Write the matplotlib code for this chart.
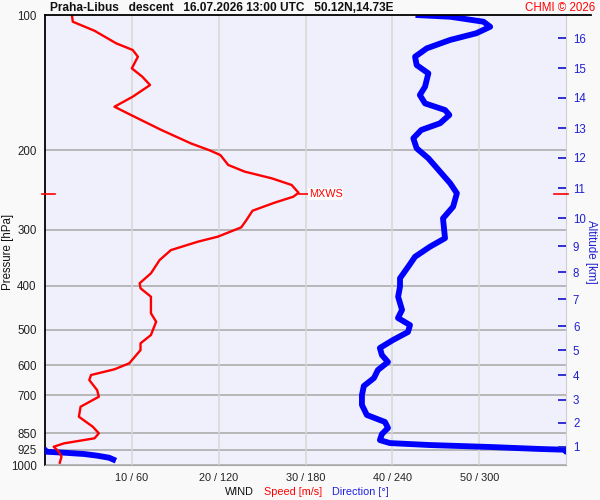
import matplotlib
matplotlib.use('Agg')
import numpy as np
import matplotlib.pyplot as plt
from matplotlib.ticker import NullLocator
from matplotlib.lines import Line2D

plt.rcParams['font.family'] = ['Liberation Sans', 'DejaVu Sans']

# ---------------- data ----------------
speed_p = [100, 103.5, 108.4, 115.6, 119.6, 123.8, 131.4, 137.1, 143.1, 151.9, 159.9, 166.8,
           180.1, 192.9, 200, 204.8, 215.4, 222.9, 230.6, 238.6, 248.3, 253.4, 261.4, 272.2,
           285.5, 296.4, 310.9, 319.0, 333.0, 350.4, 375.0, 394.6, 404.8, 422.7, 460.1, 480.4,
           514.2, 536.6, 555.5, 594.3, 612.8, 631.0, 647.4, 681.5, 705.2, 742.1, 781.1, 822.1,
           850.4, 872.3, 895.1, 910.7, 934.1, 958.5, 988.3]
speed_ms = [3.1, 3.2, 5.7, 8.2, 10.1, 10.7, 10.0, 11.2, 12.1, 10.1, 8.0, 9.9,
            13.4, 16.8, 19.0, 20.2, 21.1, 23.0, 26.1, 28.4, 29.2, 28.6, 26.4, 23.9,
            23.2, 22.6, 19.9, 17.6, 14.5, 13.2, 12.2, 10.9, 11.0, 12.2, 12.2, 12.8,
            12.2, 11.0, 11.0, 9.7, 8.0, 5.3, 5.1, 6.0, 6.2, 4.1, 3.9, 5.5,
            6.2, 5.7, 2.2, 1.0, 1.6, 1.9, 1.7]

dir_p = [100, 100.9, 103.5, 106.2, 109.8, 113.6, 118.6, 123.8, 129.2, 134.8, 144.3, 150.6,
         157.2, 162.6, 166.8, 174.0, 180.1, 187.9, 197.8, 208.2, 236.6, 249.0, 266.7, 283.1,
         300.3, 313.3, 327.3, 344.5, 362.4, 384.6, 401.6, 422.7, 452.2, 471.3, 488.7, 506.4,
         527.6, 549.5, 569.7, 590.4, 615.2, 640.8, 667.6, 699.1, 735.5, 774.3, 802.4, 827.5,
         853.6, 880.3, 893.9, 902.9, 912.0, 921.4, 925.0, 934.1, 939.0, 945.3, 953.5, 963.4, 978.2]
# direction in degrees, unwrapped past 360 near the ground
dir_deg = [256, 280, 303, 307.6, 298, 280, 263.8, 255.7, 256.8, 264.9, 262.6, 259,
           262.6, 276.4, 279.4, 273, 260, 254.5, 256.8, 264.9, 280, 284.6, 282, 275,
           275.8, 276.4, 266, 255.7, 251, 245.3, 245.3, 244, 246.7, 243.9, 252.2, 250.8,
           240.4, 231.4, 232.8, 237, 230, 227.3, 220.3, 219, 219, 222.4, 234.9, 237,
           232.8, 231.4, 238.3, 266, 307.6, 342.3, 360, 360, 373.2, 387, 396.2, 404.3, 409]

p_ticks = [100, 200, 300, 400, 500, 600, 700, 850, 925, 1000]
p_grid = [200, 300, 400, 500, 600, 700, 850, 925, 1000]
x_ticks = [10, 20, 30, 40, 50]
x_labels = ['10 / 60', '20 / 120', '30 / 180', '40 / 240', '50 / 300']
alt_km = [1, 2, 3, 4, 5, 6, 7, 8, 9, 10, 11, 12, 13, 14, 15, 16]
alt_p = [912, 806.5, 717, 631, 555.4, 491.2, 427.8, 372.5, 326.2, 282.6, 242.4, 207.8,
         178.3, 152.9, 131.2, 112.5]
mxws_p = 250
mxws_speed = 29.2

# ---------------- figure ----------------
W, H = 600, 500
fig = plt.figure(figsize=(6, 5), dpi=100, facecolor='#f9f9f9')
ax = fig.add_axes([45 / W, 35 / H, 521 / W, 450 / H])
ax.set_facecolor('#f0f0fd')
ax.set_yscale('log')
ax.set_ylim(1000, 100)
ax.set_xlim(0, 60)
ax.yaxis.set_minor_locator(NullLocator())
ax.set_yticks(p_ticks)
ax.set_yticklabels([str(p) for p in p_ticks])
ax.tick_params(axis='y', length=0, pad=6, labelsize=8.3, labelcolor='#222222')
ax.set_xticks(x_ticks)
ax.set_xticklabels(x_labels)
ax.tick_params(axis='x', length=0, pad=6, labelsize=7.8, labelcolor='#222222')

for p in p_grid:
    ax.axhline(p, color='#a8a8a8', lw=1.1, zorder=1)
for x in x_ticks:
    ax.axvline(x, color='#d8d8d8', lw=1.1, zorder=1)

ax.spines['left'].set_color('black')
ax.spines['left'].set_linewidth(1.3)
ax.spines['top'].set_visible(False)
ax.spines['right'].set_color('#cfcfcf')
ax.spines['bottom'].set_color('#a8a8a8')

# speed
ax.plot(speed_ms, speed_p, color='red', lw=1.7, zorder=4)
# direction (0-360 mapped on 0-60)
d = np.array(dir_deg) / 6.0
ax.plot(d, dir_p, color='blue', lw=4.2, zorder=3, solid_capstyle='butt')
ax.plot(d - 60, dir_p, color='blue', lw=4.2, zorder=3, solid_capstyle='butt')

# MXWS markers
ax.plot([-0.35, 1.15], [mxws_p, mxws_p], color='red', lw=1.2, clip_on=False, zorder=5)
ax.plot([58.6, 60.2], [mxws_p, mxws_p], color='red', lw=1.2, clip_on=False, zorder=5)
ax.plot([mxws_speed, 30.3], [mxws_p, mxws_p], color='red', lw=1.2, zorder=5)
ax.text(30.4, mxws_p, 'MXWS', color='red', fontsize=7.8, va='center', ha='left',
        bbox=dict(facecolor='white', edgecolor='none', pad=0.5), zorder=6)

# altitude axis
ax2 = ax.twinx()
ax2.set_yscale('log')
ax2.set_ylim(1000, 100)
ax2.yaxis.set_minor_locator(NullLocator())
ax2.set_yticks(alt_p)
ax2.set_yticklabels([str(k) for k in alt_km])
ax2.tick_params(axis='y', direction='in', length=6, width=1.3, color='#2020d0',
                labelcolor='#2020d0', labelsize=8.3, pad=5)
for s in ax2.spines.values():
    s.set_visible(False)

# texts
fig.add_artist(Line2D([45 / W, 591 / W], [1 - 15 / H] * 2, color='black', lw=1.3))
fig.text(50 / W, 1 - 8 / H, 'Praha-Libus   descent   16.07.2026 13:00 UTC   50.12N,14.73E',
         fontsize=8.6, fontweight='bold', ha='left', va='center', color='#111111')
fig.text(595 / W, 1 - 8 / H, 'CHMI © 2026', fontsize=8.3, color='red', ha='right', va='center')
fig.text(8 / W, 1 - 252 / H, 'Pressure [hPa]', rotation=90, fontsize=8.3, ha='center',
         va='center', color='#111111')
fig.text(591 / W, 1 - 252 / H, 'Altitude [km]', rotation=-90, fontsize=8.3, ha='center',
         va='center', color='#2020d0')
fig.text(225 / W, 1 - 492 / H, 'WIND', fontsize=7.8, ha='left', va='center', color='#111111')
fig.text(264 / W, 1 - 492 / H, 'Speed [m/s]', fontsize=7.8, ha='left', va='center', color='red')
fig.text(332 / W, 1 - 492 / H, 'Direction [°]', fontsize=7.8, ha='left', va='center', color='#2020e0')

fig.savefig('out.png', dpi=100, facecolor=fig.get_facecolor())
